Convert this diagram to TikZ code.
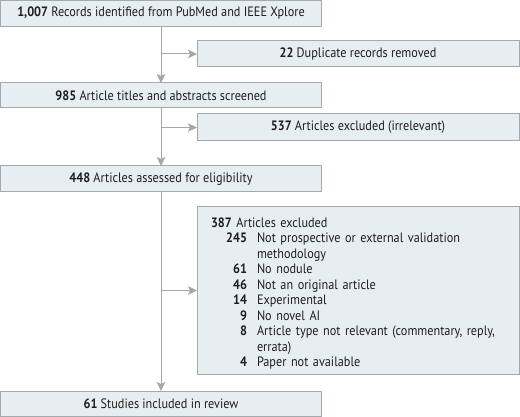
\documentclass[tikz,border=0pt]{standalone}
\usepackage{fontspec}
\setmainfont{PT Sans}[FakeStretch=0.9]
\usetikzlibrary{arrows.meta,calc}
\definecolor{boxfill}{HTML}{E7EEF2}
\definecolor{boxline}{HTML}{A3ABB1}
\definecolor{arrcol}{HTML}{A6A6A6}
\definecolor{txt}{HTML}{1E1E1E}
\begin{document}
\begin{tikzpicture}[x=1pt,y=-1pt,
  box/.style={draw=boxline,fill=boxfill,line width=1pt,rectangle,anchor=north west,
    inner sep=0pt,outer sep=0pt,text=txt,font=\fontsize{13.6}{15.5}\selectfont},
  arr/.style={draw=arrcol,line width=1pt,-{Stealth[length=9pt,width=8.5pt,inset=2pt]}}]
\useasboundingbox (0,0) rectangle (520,417);
\node[box,minimum width=321pt,minimum height=26pt] (b1) at (0.5,0.5) {\textbf{1,007} Records identified from PubMed and IEEE Xplore};
\node[box,minimum width=322pt,minimum height=26pt] (b2) at (197,41) {\textbf{22} Duplicate records removed};
\node[box,minimum width=321pt,minimum height=25pt] (b3) at (0.5,83) {\textbf{985} Article titles and abstracts screened};
\node[box,minimum width=322pt,minimum height=27pt] (b4) at (197,114) {\textbf{537} Articles excluded (irrelevant)};
\node[box,minimum width=321pt,minimum height=26pt] (b5) at (0.5,166) {\textbf{448} Articles assessed for eligibility};
\node[box,minimum height=167pt,inner xsep=14pt,text width=294pt,align=left] (b6) at (197,207) {%
\raisebox{-3.5pt}[\height][\depth]{\begin{tabular}{@{}r@{\hspace{10pt}}l@{}}
\multicolumn{2}{@{}l@{}}{\textbf{387} Articles excluded}\\
\makebox[36pt][r]{\textbf{245}} & Not prospective or external validation\\
 & methodology\\
\textbf{61} & No nodule\\
\textbf{46} & Not an original article\\
\textbf{14} & Experimental\\
\textbf{9} & No novel AI\\
\textbf{8} & Article type not relevant (commentary, reply,\\
 & errata)\\
\textbf{4} & Paper not available
\end{tabular}}};
\node[box,minimum width=321pt,minimum height=25.5pt] (b7) at (0.5,391) {\textbf{61} Studies included in review};
\draw[arr] (161,26.5) coordinate (s1) -- (s1 |- b3.north);
\draw[arr] (s1 |- b2.west) -- (b2.west);
\draw[arr] (s1 |- b3.south) -- (s1 |- b5.north);
\draw[arr] (s1 |- b4.west) -- (b4.west);
\draw[arr] (s1 |- b5.south) -- (s1 |- b7.north);
\draw[arr] (s1 |- b6.west) -- (b6.west);
\end{tikzpicture}
\end{document}
